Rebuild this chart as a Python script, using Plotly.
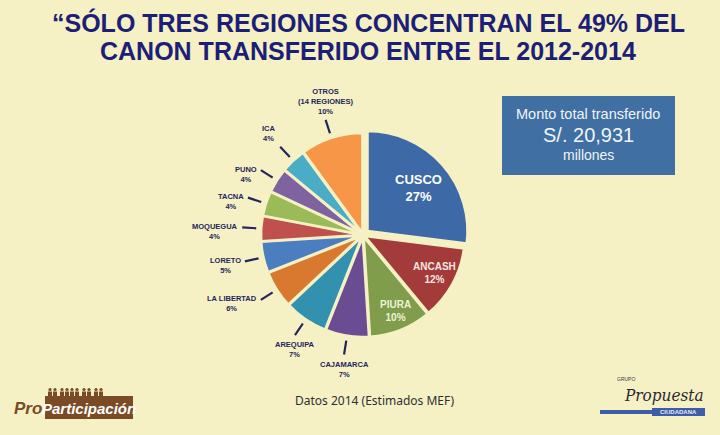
import math
import plotly.graph_objects as go

# ---------------- data ----------------
regions = ["CUSCO", "ANCASH", "PIURA", "CAJAMARCA", "AREQUIPA", "LA LIBERTAD",
           "LORETO", "MOQUEGUA", "TACNA", "PUNO", "ICA", "OTROS"]
label_names = ["CUSCO", "ANCASH", "PIURA", "CAJAMARCA", "AREQUIPA", "LA LIBERTAD",
               "LORETO", "MOQUEGUA", "TACNA", "PUNO", "ICA", "OTROS<br>(14 REGIONES)"]
shares = [27, 12, 10, 7, 7, 6, 5, 4, 4, 4, 4, 10]
inside_labels = ["CUSCO", "ANCASH", "PIURA"]
colors = ["#3D69A6", "#A23B3A", "#7F9D4A", "#6A4C93", "#3291AE", "#D9792F",
          "#4A7EC0", "#C0504D", "#9BBB59", "#7F63A0", "#4BACC6", "#F79646"]
pulls = [0.06, 0.02, 0.02, 0.02, 0.02, 0.02, 0.02, 0.02, 0.02, 0.02, 0.02, 0.02]

title_lines = ["“SÓLO TRES REGIONES CONCENTRAN EL 49% DEL",
               "CANON TRANSFERIDO ENTRE EL 2012-2014"]
box_lines = ["Monto total transferido", "S/. 20,931", "millones"]
source_text = "Datos 2014 (Estimados MEF)"

# ---------------- layout constants ----------------
W, H = 720, 435
BG = "#F5F1C4"
NAVY = "#1C1E78"
LABEL = "#23255C"
CX, CY = 363, 235          # pie centre (px)
R = 100                    # drawn radius (px)
maxpull = max(pulls)
half = R * (1 + maxpull)


def px(x):
    return x / W


def py(y):
    return 1 - y / H


fig = go.Figure(go.Pie(
    labels=regions, values=shares, sort=False, direction="clockwise", rotation=0,
    marker=dict(colors=colors, line=dict(color=BG, width=2.5)),
    pull=pulls, textinfo="none", hoverinfo="label+percent", showlegend=False,
    domain=dict(x=[px(CX - half), px(CX + half)], y=[py(CY + half), py(CY - half)]),
))

annotations = []
shapes = []
total = sum(shares)
cum = 0
for name, lab, v, p in zip(regions, label_names, shares, pulls):
    mid = (cum + v / 2) / total * 2 * math.pi
    cum += v
    s, c = math.sin(mid), math.cos(mid)
    off = p * R
    pct = f"{round(v / total * 100)}%"
    if name in inside_labels:
        r = R * (0.88 - 0.0085 * v) + off
        size = 13 if v > 20 else 10
        col = "#FFFFFF" if v > 20 else ("#F6E6E2" if name == "ANCASH" else "#EEF3D6")
        annotations.append(dict(
            x=px(CX + r * s + 2), y=py(CY - r * c), xref="paper", yref="paper",
            text=f"<b>{lab}<br>{pct}</b>", showarrow=False,
            font=dict(family="Liberation Sans", size=size, color=col),
            align="center", xanchor="center", yanchor="middle"))
    else:
        r1, r2 = R * 1.05 + off, R * 1.19 + off
        x1, y1 = CX + r1 * s, CY - r1 * c
        x2, y2 = CX + r2 * s, CY - r2 * c
        shapes.append(dict(type="line", xref="paper", yref="paper",
                           x0=px(x1), y0=py(y1), x1=px(x2), y1=py(y2),
                           line=dict(color=LABEL, width=2.2)))
        if abs(s) < 0.6:
            xa, xs = "center", 0
        else:
            xa, xs = ("right", -2) if s < 0 else ("left", 2)
        if c > 0.6:
            ya, ys = "bottom", 2
        elif c < -0.6:
            ya, ys = "top", -3
        else:
            ya, ys = "middle", -4
        annotations.append(dict(
            x=px(x2), y=py(y2), xref="paper", yref="paper",
            text=f"<b>{lab}<br>{pct}</b>", showarrow=False,
            font=dict(family="Liberation Sans", size=7.5, color=LABEL),
            align="center", xanchor=xa, yanchor=ya, xshift=xs, yshift=ys))

# title
for i, t in enumerate(title_lines):
    annotations.append(dict(
        x=px(368), y=py(22 + 29 * i), xref="paper", yref="paper", text=f"<b>{t}</b>",
        showarrow=False, font=dict(family="Liberation Sans", size=25, color=NAVY),
        xanchor="center", yanchor="middle"))

# info box
shapes.append(dict(type="rect", xref="paper", yref="paper",
                   x0=px(502), x1=px(675), y0=py(175), y1=py(96),
                   fillcolor="#3F6FA3", line=dict(width=0)))
for t, yy, sz in zip(box_lines, [114, 135, 155], [14.5, 20, 14]):
    annotations.append(dict(
        x=px(588), y=py(yy), xref="paper", yref="paper", text=t, showarrow=False,
        font=dict(family="Liberation Sans", size=sz, color="#F2F4F6"),
        xanchor="center", yanchor="middle"))

# source
annotations.append(dict(
    x=px(374), y=py(400), xref="paper", yref="paper", text=source_text, showarrow=False,
    font=dict(family="Noto Sans", size=12, color="#2F2F38"),
    xanchor="center", yanchor="middle"))

# left logo: ProParticipación
BROWN = "#7A4B24"
shapes.append(dict(type="rect", xref="paper", yref="paper",
                   x0=px(45), x1=px(133), y0=py(419), y1=py(396),
                   fillcolor=BROWN, line=dict(width=0)))
annotations.append(dict(x=px(45), y=py(408), xref="paper", yref="paper",
                        text="<b><i>Pro</i></b>", showarrow=False,
                        font=dict(family="Liberation Sans", size=17, color=BROWN),
                        xanchor="right", yanchor="middle", xshift=-1))
annotations.append(dict(x=px(89), y=py(408), xref="paper", yref="paper",
                        text="<b><i>Participación</i></b>", showarrow=False,
                        font=dict(family="Liberation Sans", size=15, color="#FFFFFF"),
                        xanchor="center", yanchor="middle"))
people_x = [50, 55, 62, 67, 72, 77, 84, 89, 96, 101]
for xx in people_x:
    shapes.append(dict(type="circle", xref="paper", yref="paper",
                       x0=px(xx - 1.6), x1=px(xx + 1.6), y0=py(391), y1=py(388),
                       fillcolor=BROWN, line=dict(width=0)))
    shapes.append(dict(type="rect", xref="paper", yref="paper",
                       x0=px(xx - 2), x1=px(xx + 2), y0=py(396), y1=py(391.5),
                       fillcolor=BROWN, line=dict(width=0)))

# right logo: Grupo Propuesta Ciudadana
shapes.append(dict(type="rect", xref="paper", yref="paper",
                   x0=px(600), x1=px(705), y0=py(414), y1=py(410),
                   fillcolor="#3C5DA8", line=dict(width=0)))
shapes.append(dict(type="rect", xref="paper", yref="paper",
                   x0=px(652), x1=px(705), y0=py(416), y1=py(408),
                   fillcolor="#3C5DA8", line=dict(width=0)))
annotations.append(dict(x=px(678), y=py(412), xref="paper", yref="paper",
                        text="<b>CIUDADANA</b>", showarrow=False,
                        font=dict(family="Liberation Sans", size=6, color="#E8ECF5"),
                        xanchor="center", yanchor="middle"))
annotations.append(dict(x=px(664), y=py(395), xref="paper", yref="paper",
                        text="<i>Propuesta</i>", showarrow=False,
                        font=dict(family="DejaVu Serif Condensed, DejaVu Serif", size=17,
                                  color="#2A2A33"),
                        xanchor="center", yanchor="middle"))
annotations.append(dict(x=px(626), y=py(379), xref="paper", yref="paper",
                        text="GRUPO", showarrow=False,
                        font=dict(family="Liberation Sans", size=5, color="#3A3A44"),
                        xanchor="center", yanchor="middle"))

fig.update_layout(
    width=W, height=H, margin=dict(l=0, r=0, t=0, b=0),
    paper_bgcolor=BG, plot_bgcolor=BG,
    annotations=annotations, shapes=shapes,
)

fig.write_html("out.html")
